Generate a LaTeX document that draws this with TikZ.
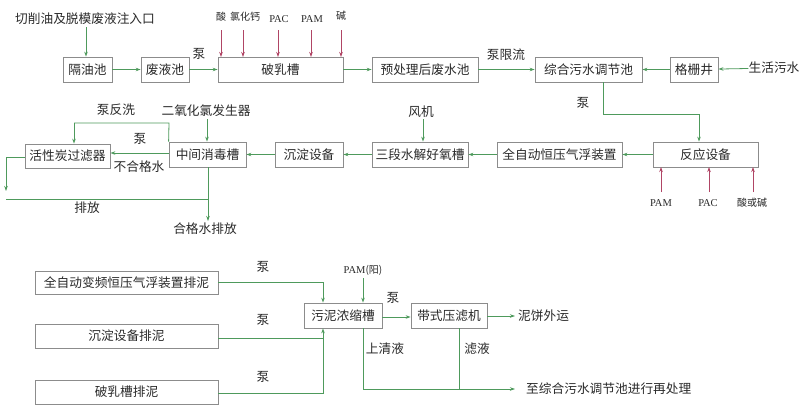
\documentclass[tikz,border=0pt]{standalone}
\usepackage{fontspec}
\setmainfont{Noto Sans CJK SC}
\newfontfamily\lat{Liberation Serif}
\usetikzlibrary{arrows.meta}
\definecolor{lg}{HTML}{4E9A5C}
\definecolor{rd}{HTML}{B04565}
\definecolor{bx}{HTML}{8C8C8C}
\definecolor{tx}{HTML}{2A2A2A}
\tikzset{
  box/.style={draw=bx,line width=0.8pt,rectangle,minimum height=25pt,inner sep=0pt,text=tx,font=\fontsize{12.7}{14}\selectfont},
  lbl/.style={inner sep=0pt,text=tx,font=\fontsize{12.7}{14}\selectfont},
  sml/.style={inner sep=0pt,text=tx,font=\fontsize{10}{11}\selectfont},
  smll/.style={inner sep=0pt,text=tx,font=\lat\fontsize{10.5}{11}\selectfont},
  arr/.style={draw=lg,line width=0.8pt,-{Stealth[length=5pt,width=3.5pt]}},
  ln/.style={draw=lg,line width=0.8pt},
  rarr/.style={draw=rd,line width=0.8pt,-{Stealth[length=5pt,width=3.5pt]}}
}
\begin{document}
\begin{tikzpicture}[x=1pt,y=-1pt]
\useasboundingbox[fill=white] (0,0) rectangle (800,408);
% row 1
\node[box,minimum width=49pt] (geyou) at (87.5,69.5) {隔油池};
\node[box,minimum width=48pt] (feiye) at (165,69.5) {废液池};
\node[box,minimum width=125pt] (poru) at (280.5,69.5) {破乳槽};
\node[box,minimum width=106pt] (yuchuli) at (425,69.5) {预处理后废水池};
\node[box,minimum width=107pt] (zonghe) at (588.5,69.5) {综合污水调节池};
\node[box,minimum width=48pt] (gezha) at (694,69.5) {格栅井};
\node[lbl] (title) at (85,19) {切削油及脱模废液注入口};
\node[lbl] (shenghuo) at (774,68) {生活污水};
\node[lbl] (beng1) at (199,54) {泵};
\node[lbl] (bengxl) at (506,55) {泵限流};
\coordinate (t1) at (86,27);
\draw[arr] (t1) -- (t1 |- geyou.north);
\draw[arr] (geyou) -- (feiye);
\draw[arr] (feiye) -- (poru);
\draw[arr] (poru) -- (yuchuli);
\draw[arr] (yuchuli) -- (zonghe);
\draw[arr] (gezha) -- (zonghe);
\draw[arr] (shenghuo) -- (gezha);
% reagents row 1
\node[sml] (suan) at (221,17) {酸};
\node[sml] (lhg) at (245,17) {氯化钙};
\node[smll] (pac1) at (279,19) {PAC};
\node[smll] (pam1) at (312,19) {PAM};
\node[sml] (jian) at (341,16) {碱};
\foreach \x in {221,243,278,311,341}{
  \draw[rarr] (\x,30) -- (\x,57);
}
% row 2
\node[box,minimum width=105pt] (fanying) at (705.5,154.5) {反应设备};
\node[box,minimum width=125pt] (qifu) at (559.5,154.5) {全自动恒压气浮装置};
\node[box,minimum width=96pt] (sanduan) at (420,154.5) {三段水解好氧槽};
\node[box,minimum width=68pt] (chendian) at (309,154.5) {沉淀设备};
\node[box,minimum width=77pt] (zhongjian) at (207.5,154.5) {中间消毒槽};
\node[box,minimum width=85pt,minimum height=24pt] (huoxing) at (67.5,156) {活性炭过滤器};
\coordinate (z1) at (603,114);
\coordinate (z2) at (699,114);
\draw[ln] (zonghe.south -| z1) -- (z1) -- (z2);
\draw[arr] (z2) -- (z2 |- fanying.north);
\node[lbl] (beng2) at (583,103) {泵};
\draw[arr] (fanying) -- (qifu);
\draw[arr] (qifu) -- (sanduan);
\draw[arr] (sanduan) -- (chendian);
\draw[arr] (chendian) -- (zhongjian);
\node[lbl] (fengji) at (421,112) {风机};
\coordinate (f1) at (423,119);
\draw[arr] (f1) -- (f1 |- sanduan.north);
\node[lbl] (eryang) at (206,111) {二氧化氯发生器};
\coordinate (e1) at (207,119);
\draw[arr] (e1) -- (e1 |- zhongjian.north);
% reagents row 2
\node[smll] (pam2) at (661,203) {PAM};
\node[smll] (pac2) at (708,203) {PAC};
\node[sml] (sh) at (752,203) {酸或碱};
\foreach \x in {661,709,753}{
  \draw[rarr] (\x,192) -- (\x,167);
}
% disinfection / filter
\coordinate (h1) at (169,153);
\draw[arr] (h1) -- (h1 -| huoxing.east);
\node[lbl] (bhg) at (139,167) {不合格水};
\node[lbl] (beng3) at (140,139) {泵};
\coordinate (b1) at (169,123);
\coordinate (b2) at (74,123);
\draw[ln] (zhongjian.north west) -- (b1) -- (b2);
\draw[arr] (b2) -- (b2 |- huoxing.north);
\node[lbl] (fx) at (116,110) {泵反洗};
\coordinate (p1) at (6,157);
\coordinate (p2) at (6,191);
\coordinate (p3) at (6,199);
\coordinate (p4) at (208,199);
\coordinate (p5) at (208,221);
\draw[ln] (huoxing.west |- p1) -- (p1);
\draw[arr] (p1) -- (p2);
\draw[ln] (p3) -- (p4);
\draw[arr] (p4 |- zhongjian.south) -- (p5);
\node[lbl] (pf) at (87,208) {排放};
\node[lbl] (hgs) at (205,229) {合格水排放};
% sludge
\node[box,minimum width=183pt,minimum height=23pt] (pn1) at (126.5,282.5) {全自动变频恒压气浮装置排泥};
\node[box,minimum width=183pt,minimum height=24pt] (pn2) at (126.5,336) {沉淀设备排泥};
\node[box,minimum width=183pt,minimum height=24pt] (pn3) at (126.5,392) {破乳槽排泥};
\node[box,minimum width=78pt] (nongsuo) at (343,315.5) {污泥浓缩槽};
\node[box,minimum width=76pt] (yalv) at (449,315.5) {带式压滤机};
\coordinate (s1) at (323,282);
\coordinate (s2) at (323,338);
\coordinate (s3) at (323,393);
\draw[ln] (pn1.east |- s1) -- (s1);
\draw[arr] (s1) -- (s1 |- nongsuo.north);
\draw[ln] (pn2.east |- s2) -- (s2);
\draw[arr] (s2) -- (s2 |- nongsuo.south);
\draw[ln] (pn3.east |- s3) -- (s3) -- (s2);
\node[lbl] (b4) at (263,267) {泵};
\node[lbl] (b5) at (263,320) {泵};
\node[lbl] (b6) at (263,377) {泵};
\node[sml] (pamy) at (363,270) {{\lat\fontsize{10.5}{11}\selectfont PAM}(阳)};
\coordinate (m1) at (363,278);
\draw[arr] (m1) -- (m1 |- nongsuo.north);
\coordinate (c1) at (382,317);
\draw[arr] (c1) -- (c1 -| yalv.west);
\node[lbl] (b7) at (393,298) {泵};
\coordinate (n1) at (515,316);
\draw[arr] (yalv.east |- n1) -- (n1);
\node[lbl,anchor=west] (nb) at (518,316) {泥饼外运};
\coordinate (q1) at (363,389);
\coordinate (q2) at (459,389);
\coordinate (q3) at (515,389);
\draw[ln] (q1 |- nongsuo.south) -- (q1) -- (q2);
\draw[arr] (q2) -- (q3);
\draw[ln] (q2 |- yalv.south) -- (q2);
\node[lbl] (sqy) at (385,349) {上清液};
\node[lbl] (lvy) at (477,349) {滤液};
\node[lbl,anchor=west] (zh) at (526,389) {至综合污水调节池进行再处理};
\end{tikzpicture}
\end{document}
